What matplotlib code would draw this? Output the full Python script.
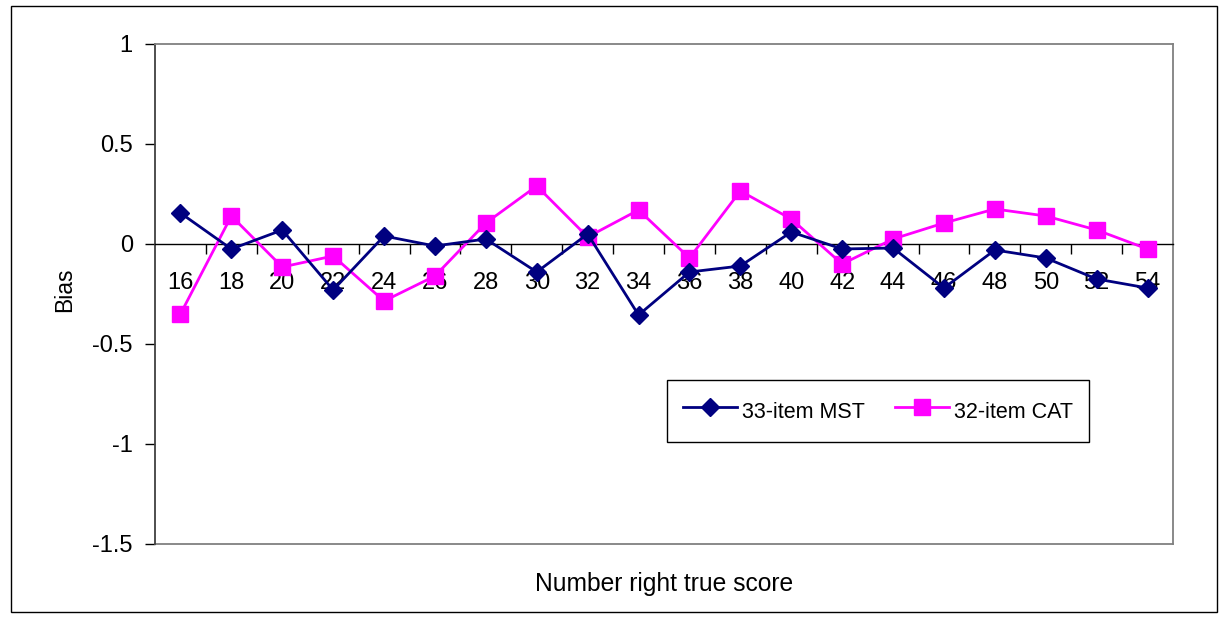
import matplotlib.pyplot as plt
from matplotlib.patches import Rectangle

plt.rcParams["font.family"] = ["Liberation Sans", "DejaVu Sans"]

scores = [16, 18, 20, 22, 24, 26, 28, 30, 32, 34, 36, 38, 40, 42, 44, 46, 48, 50, 52, 54]
mst_bias = [0.155, -0.025, 0.07, -0.23, 0.04, -0.01, 0.025, -0.14, 0.05, -0.355,
            -0.14, -0.11, 0.06, -0.025, -0.02, -0.22, -0.03, -0.07, -0.175, -0.22]
cat_bias = [-0.35, 0.14, -0.115, -0.06, -0.285, -0.16, 0.105, 0.29, 0.035, 0.17,
            -0.07, 0.265, 0.125, -0.1, 0.025, 0.105, 0.175, 0.14, 0.07, -0.025]

fig = plt.figure(figsize=(12.25, 6.21), dpi=100)
ax = fig.add_axes([155 / 1225, 1 - 544 / 621, 1018 / 1225, 500 / 621])

x = list(range(len(scores)))
ax.plot(x, mst_bias, color="#000080", marker="D", markersize=9, linewidth=2,
        label="33-item MST", zorder=5)
ax.plot(x, cat_bias, color="#FF00FF", marker="s", markersize=11, linewidth=2,
        label="32-item CAT", zorder=4)

ax.set_xlim(-0.5, len(scores) - 0.5)
ax.set_ylim(-1.5, 1)
ax.set_yticks([-1.5, -1, -0.5, 0, 0.5, 1])
ax.set_yticklabels(["-1.5", "-1", "-0.5", "0", "0.5", "1"])

ax.set_xticks(x)
ax.set_xticklabels([str(s) for s in scores])
ax.set_xticks([i + 0.5 for i in x[:-1]], minor=True)
ax.tick_params(axis="x", which="major", length=0, pad=20, labelsize=17)
ax.tick_params(axis="x", which="minor", length=7, width=1, direction="out")
ax.tick_params(axis="y", length=7, width=1, direction="out", labelsize=17, pad=9)

ax.spines["bottom"].set_position(("data", 0))
ax.spines["bottom"].set_linewidth(1)
ax.spines["left"].set_color("#404040")
ax.spines["left"].set_linewidth(1.3)
for side in ["top", "right"]:
    ax.spines[side].set_color("#808080")
    ax.spines[side].set_linewidth(1.3)
ax.plot([0, 1], [0, 0], transform=ax.transAxes, color="#808080", linewidth=1.3,
        clip_on=False)

fig.text(65 / 1225, 1 - 290 / 621, "Bias", rotation=90, ha="center", va="center",
         fontsize=16.5)
fig.text((155 + 1173) / 2 / 1225, 1 - 584 / 621, "Number right true score",
         ha="center", va="center", fontsize=17.7)

leg = ax.legend(loc="center", bbox_to_anchor=(878 / 1225, 1 - 411 / 621),
                bbox_transform=fig.transFigure, ncol=2, fontsize=15.5,
                frameon=True, fancybox=False, edgecolor="black", framealpha=1,
                handlelength=2.5, columnspacing=1.4, borderpad=0.75,
                handletextpad=0.25, handleheight=1.7)
leg.get_frame().set_linewidth(1)

fig.patches.append(Rectangle((11 / 1225, 1 - 612 / 621), 1206 / 1225, 606 / 621,
                             transform=fig.transFigure, fill=False,
                             edgecolor="black", linewidth=1))

fig.savefig("out.png", dpi=100)
